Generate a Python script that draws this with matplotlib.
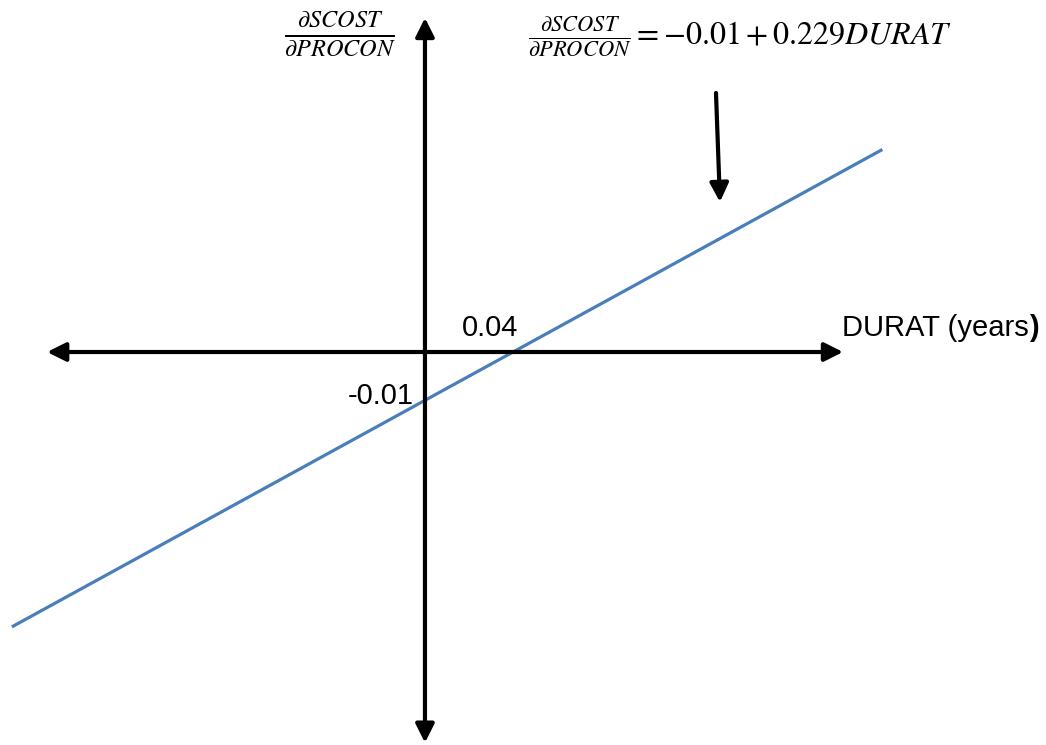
import matplotlib
matplotlib.use("Agg")
import matplotlib.pyplot as plt

# Marginal effect of PROCON on SCOST as a function of DURAT
intercept = -0.01
slope = 0.229
x_root = 0.04          # label shown where the line crosses the DURAT axis
durat = [-0.205, 0.227]       # line end points (years)
effect = [-0.057, 0.042]      # dSCOST/dPROCON at those end points

plt.rcParams['font.family'] = ['Liberation Sans', 'DejaVu Sans']
plt.rcParams['mathtext.fontset'] = 'stix'

fig = plt.figure(figsize=(10.46, 7.45), dpi=100)
ax = fig.add_axes([0, 0, 1, 1])
ax.set_xlim(-0.2109, 0.3082)
ax.set_ylim(-0.0815, 0.0730)
ax.axis('off')

# the regression line
ax.plot(durat, effect, color='#4a7ebb', lw=2.3, solid_capstyle='butt', zorder=3)

# axes drawn as double headed arrows
head = dict(arrowstyle='<|-|>,head_length=0.8,head_width=0.4', lw=3,
            color='black', shrinkA=0, shrinkB=0, mutation_scale=14)
ax.annotate('', xy=(0.806, 0), xytext=(0.045, 0),
            xycoords=('axes fraction', 'data'), textcoords=('axes fraction', 'data'),
            arrowprops=head)
ax.annotate('', xy=(0, 0.976), xytext=(0, 0.003),
            xycoords=('data', 'axes fraction'), textcoords=('data', 'axes fraction'),
            arrowprops=head)

# labels on the axes
ax.annotate(f'{x_root:.2f}', xy=(x_root, 0), xytext=(-11, 17),
            textcoords='offset points', ha='center', va='center', fontsize=21)
ax.annotate(f'{intercept:.2f}', xy=(0, intercept), xytext=(-8, 3),
            textcoords='offset points', ha='right', va='center', fontsize=21)

t = ax.text(0.805, 0.560, 'DURAT (years', transform=ax.transAxes,
            ha='left', va='center', fontsize=21)
ax.annotate(')', xy=(1, 0.5), xycoords=t, ha='left', va='center',
            fontsize=21, fontweight='bold')

ax.text(0.325, 0.955, r'$\frac{\partial SCOST}{\partial PROCON}$',
        transform=ax.transAxes, ha='center', va='center', fontsize=25)
ax.text(0.707, 0.952,
        r'$\frac{\partial SCOST}{\partial PROCON} = -0.01 + 0.229DURAT$',
        transform=ax.transAxes, ha='center', va='center', fontsize=23)

# pointer to the line
ax.annotate('', xy=(0.6883, 0.7289), xytext=(0.6845, 0.8752),
            xycoords='axes fraction', textcoords='axes fraction',
            arrowprops=dict(arrowstyle='-|>,head_length=0.8,head_width=0.4', lw=3,
                            color='black', shrinkA=0, shrinkB=0, mutation_scale=14))

fig.savefig('out.png', dpi=100)
